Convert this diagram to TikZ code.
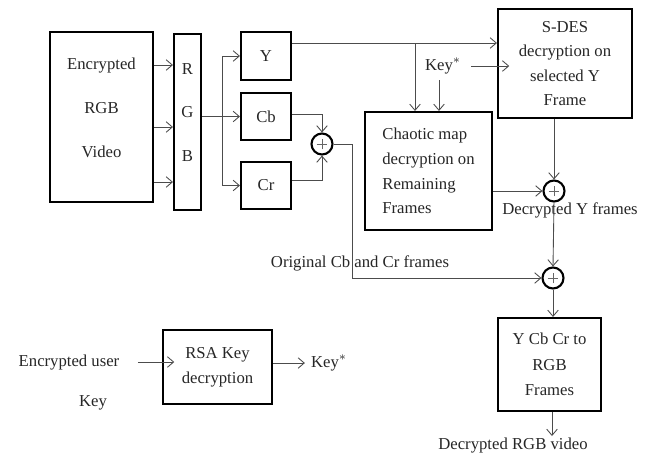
\documentclass[tikz,border=0pt]{standalone}
\usepackage{fontspec}
\setmainfont{Liberation Serif}
\usepackage{tikz}
\usetikzlibrary{arrows.meta}

\begin{document}
\begin{tikzpicture}[
  font=\fontsize{9.5}{14}\selectfont,
  every node/.style={text=black!85},
  blockbox/.style={draw=black,line width=1.2pt,inner sep=2pt},
  sumnode/.style={circle,draw=black,line width=1.2pt,minimum size=0.42cm,inner sep=0pt,
    path picture={\draw[black!60,line width=0.4pt]
      ([xshift=-3pt]path picture bounding box.center) -- ([xshift=3pt]path picture bounding box.center)
      ([yshift=-3pt]path picture bounding box.center) -- ([yshift=3pt]path picture bounding box.center);}},
  conn/.style={draw=black!70,line width=0.5pt,-{Straight Barb[length=3.5pt,width=6pt]}},
  wire/.style={draw=black!70,line width=0.5pt}]
\useasboundingbox (0,0) rectangle (13.06,-9.08);
% --- input split into R, G, B and then Y, Cb, Cr
\node[blockbox,minimum width=2.06cm,minimum height=3.4cm] (vid) at (2.03,-2.34) {};
\node[align=center,font=\fontsize{9.5}{25}\selectfont] (vidtxt) at (2.03,-2.16) {Encrypted\\RGB\\Video};
\node[blockbox,minimum width=0.54cm,minimum height=3.52cm] (rgb) at (3.75,-2.44) {};
\node[align=center,font=\fontsize{9.5}{24.5}\selectfont] (rgbtxt) at (3.75,-2.25) {R\\G\\B};
\foreach \y in {-1.30,-2.54,-3.64}
  \draw[conn] (vid.east |- 0,\y) -- (rgb.west |- 0,\y);
\node[blockbox,minimum width=1.0cm,minimum height=0.96cm] (ybox) at (5.32,-1.12) {Y};
\node[blockbox,minimum width=1.0cm,minimum height=0.94cm] (cbbox) at (5.32,-2.33) {Cb};
\node[blockbox,minimum width=1.0cm,minimum height=0.94cm] (crbox) at (5.32,-3.71) {Cr};
\coordinate (gsplit) at (4.44,-2.33);
\draw[wire] (rgb.east |- gsplit) -- (gsplit);
\draw[wire] (gsplit |- ybox) -- (gsplit |- crbox);
\draw[conn] (gsplit |- ybox) -- (ybox.west);
\draw[conn] (gsplit) -- (cbbox.west);
\draw[conn] (gsplit |- crbox) -- (crbox.west);
\node[sumnode] (sum1) at (6.44,-2.88) {};
\draw[conn] ([yshift=0.05cm]cbbox.east) -| (sum1.north);
\draw[conn] ([yshift=0.1cm]crbox.east) -| (sum1.south);
% --- Y path: S-DES on selected frames, chaotic map on the rest
\node[blockbox,minimum width=2.68cm,minimum height=2.18cm,align=center] (sdes) at (11.30,-1.27)
  {S-DES\\decryption on\\selected Y\\Frame};
\node[blockbox,minimum width=2.54cm,minimum height=2.36cm,align=left] (chaos) at (8.57,-3.42)
  {Chaotic map\\decryption on\\Remaining\\Frames};
\coordinate (ytap) at (8.30,-0.86);
\draw[conn] ([yshift=0.26cm]ybox.east) -- ([yshift=0.26cm]ybox.east -| sdes.west);
\draw[conn] (ytap) -- (ytap |- chaos.north);
\node (keyA) at (8.78,-1.32) {Key\rlap{$^{*}$}};
\draw[conn] ([xshift=7pt]keyA.east) -- ([xshift=7pt]keyA.east -| sdes.west);
\draw[conn] (keyA.south) -- (keyA.south |- chaos.north);
\node[sumnode] (sum2) at (11.08,-3.82) {};
\draw[conn] (sdes.south -| sum2) -- (sum2.north);
\draw[conn] (chaos.east |- sum2) -- (sum2.west);
\node (ylbl) at (11.40,-4.20) {Decrypted Y frames};
% --- recombine with the untouched chroma frames
\node[sumnode] (sum3) at (11.06,-5.56) {};
\draw[conn] (sum2.south) -- (sum3.north);
\coordinate (cbcr) at (7.04,-2.88);
\draw[wire] (sum1.east) -- (cbcr);
\draw[conn] (cbcr) |- (sum3.west);
\node (cbcrlbl) at (7.20,-5.26) {Original Cb and Cr frames};
\node[blockbox,minimum width=2.06cm,minimum height=1.86cm,align=center,font=\fontsize{9.5}{14.5}\selectfont]
  (conv) at (10.99,-7.29) {Y Cb Cr to\\RGB\\Frames};
\draw[conn] (sum3.south) -- (sum3.south |- conv.north);
\node (outlbl) at (10.26,-8.90) {Decrypted RGB video};
\coordinate (outend) at (11.04,-8.72);
\draw[conn] (conv.south -| outend) -- (outend);
% --- key recovery
\node[blockbox,minimum width=2.18cm,minimum height=1.48cm,align=center] (rsa) at (4.35,-7.34)
  {RSA Key\\decryption};
\node (inlbl) at (1.38,-7.24) {Encrypted user};
\node (inkey) at (1.86,-8.06) {Key};
\draw[conn] ([xshift=7pt]inlbl.east) -- ([xshift=7pt]inlbl.east -| rsa.west);
\node (keyB) at (6.50,-7.26) {Key\rlap{$^{*}$}};
\draw[conn] (rsa.east |- keyB) -- (keyB.west);
\end{tikzpicture}
\end{document}
